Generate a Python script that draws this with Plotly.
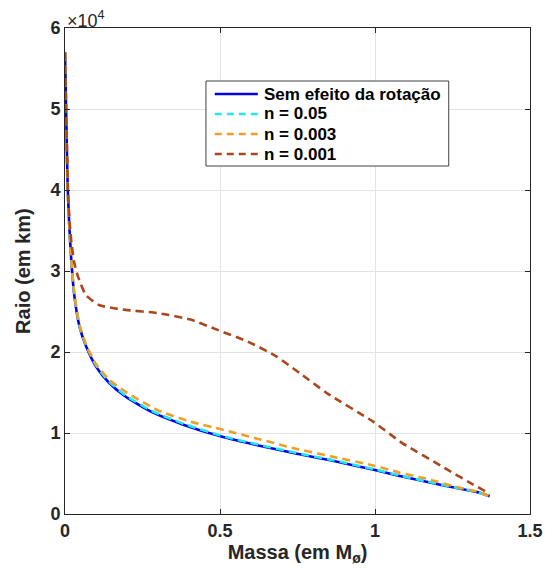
import plotly.graph_objects as go

# Data (mass in solar masses, radius in km)
m_base = [0, 0.003, 0.006, 0.009, 0.014, 0.02, 0.03, 0.047, 0.068, 0.1, 0.142, 0.195,
          0.279, 0.384, 0.51, 0.62, 0.741, 0.86, 1.0, 1.08, 1.162, 1.267, 1.33, 1.37]
r_base = [57000, 51000, 45000, 40000, 35500, 31500, 27000, 23100, 20700, 18200, 16200, 14500,
          12600, 11000, 9500, 8500, 7500, 6600, 5430, 4700, 4000, 3170, 2700, 2200]

m_n005 = [0, 0.003, 0.006, 0.009, 0.014, 0.02, 0.03, 0.047, 0.068, 0.1, 0.142, 0.195,
          0.279, 0.384, 0.51, 0.62, 0.741, 0.86, 1.0, 1.08, 1.162, 1.267, 1.33, 1.375]
r_n005 = [57000, 51000, 45000, 40000, 35500, 31500, 27100, 23200, 20850, 18350, 16350, 14650,
          12750, 11120, 9600, 8600, 7580, 6680, 5500, 4760, 4050, 3220, 2720, 2150]

m_n0003 = [0, 0.003, 0.006, 0.009, 0.014, 0.02, 0.03, 0.047, 0.068, 0.1, 0.142, 0.195,
           0.3, 0.405, 0.51, 0.62, 0.741, 0.86, 0.994, 1.08, 1.16, 1.267, 1.33, 1.38]
r_n0003 = [57000, 51000, 45000, 40000, 35500, 31500, 27200, 23300, 20900, 18500, 16600, 15100,
           12800, 11400, 10400, 9300, 8100, 7100, 6000, 5100, 4400, 3300, 2750, 2000]

m_n0001 = [0, 0.003, 0.006, 0.01, 0.015, 0.021, 0.03, 0.042, 0.068, 0.11, 0.158, 0.195,
           0.3, 0.405, 0.494, 0.589, 0.68, 0.757, 0.846, 0.994, 1.088, 1.224, 1.3, 1.37]
r_n0001 = [57000, 51000, 45500, 39500, 36000, 33400, 31000, 29300, 27000, 25800, 25400, 25200,
           24800, 24000, 22700, 21300, 19500, 17400, 14900, 11400, 8760, 5700, 4000, 2500]

names = ["Sem efeito da rotação", "n = 0.05", "n = 0.003", "n = 0.001"]
colors = ["#0000F0", "#22E8F0", "#EE9F2A", "#A8481C"]

x_ticks = [0, 0.5, 1, 1.5]
x_ticktext = ["0", "0.5", "1", "1.5"]
y_ticks = [0, 10000, 20000, 30000, 40000, 50000, 60000]
y_ticktext = ["0", "1", "2", "3", "4", "5", "6"]

FONT = "Liberation Sans, Arial, Helvetica, sans-serif"
AX = "#262626"

# plot area in pixels (for legend placement in paper coords)
PL, PR, PT, PB = 65, 540, 28, 514
def px(xp):
    return (xp - PL) / (PR - PL)
def py(yp):
    return (PB - yp) / (PB - PT)

fig = go.Figure()
series = [(m_base, r_base), (m_n005, r_n005), (m_n0003, r_n0003), (m_n0001, r_n0001)]
dashes = []
for i, ((mx, ry), nm, c) in enumerate(zip(series, names, colors)):
    d = "solid" if i == 0 else "8px,5px"
    dashes.append(d)
    fig.add_trace(go.Scatter(
        x=mx, y=ry, mode="lines", name=nm, showlegend=False,
        line=dict(color=c, width=2.6, dash=d, shape="spline", smoothing=0.6),
    ))

# Manual legend (box, line samples, labels)
shapes = [dict(type="rect", xref="paper", yref="paper",
               x0=px(209), x1=px(457), y0=py(166), y1=py(81),
               line=dict(color="#404040", width=1), fillcolor="white", layer="above")]
annotations = []
row_y = [94, 114, 134, 154]
for nm, c, d, ry in zip(names, colors, dashes, row_y):
    shapes.append(dict(type="line", xref="paper", yref="paper",
                       x0=px(218), x1=px(262), y0=py(ry), y1=py(ry),
                       line=dict(color=c, width=2.6, dash="solid" if d == "solid" else "7px,5px"),
                       layer="above"))
    annotations.append(dict(text=nm, xref="paper", yref="paper", x=px(266), y=py(ry),
                            xanchor="left", yanchor="middle", showarrow=False,
                            font=dict(family=FONT, size=17, color="black", weight="bold")))

annotations.append(dict(
    text="×10<sup>4</sup>", xref="paper", yref="paper", x=0, y=1,
    xanchor="left", yanchor="bottom", showarrow=False, yshift=-5,
    font=dict(family=FONT, size=18, color=AX),
))
# y-axis title
annotations.append(dict(
    text="Raio (em km)", xref="paper", yref="paper", x=px(22), y=0.5,
    xanchor="center", yanchor="middle", showarrow=False, textangle=-90,
    font=dict(family=FONT, size=20, color=AX, weight="bold"),
))

fig.update_layout(
    width=555, height=572,
    margin=dict(l=PL, r=555 - PR, t=PT, b=572 - PB),
    paper_bgcolor="white", plot_bgcolor="white",
    font=dict(family=FONT, color=AX),
    showlegend=False,
    xaxis=dict(
        range=[0, 1.5], tickvals=x_ticks, ticktext=x_ticktext,
        showgrid=True, gridcolor="#E3E3E3", gridwidth=1,
        showline=True, linecolor=AX, linewidth=1, mirror="ticks",
        ticks="inside", ticklen=5, tickcolor=AX,
        tickfont=dict(family=FONT, size=18, color=AX, weight="bold"),
        zeroline=False,
        title=dict(text="Massa (em M<sub>ø</sub>)", standoff=4,
                   font=dict(family=FONT, size=20, color=AX, weight="bold")),
    ),
    yaxis=dict(
        range=[0, 60000], tickvals=y_ticks, ticktext=y_ticktext,
        showgrid=True, gridcolor="#E3E3E3", gridwidth=1,
        showline=True, linecolor=AX, linewidth=1, mirror="ticks",
        ticks="inside", ticklen=5, tickcolor=AX,
        tickfont=dict(family=FONT, size=18, color=AX, weight="bold"),
        zeroline=False,
    ),
    shapes=shapes,
    annotations=annotations,
)

fig.write_html("out.html")
